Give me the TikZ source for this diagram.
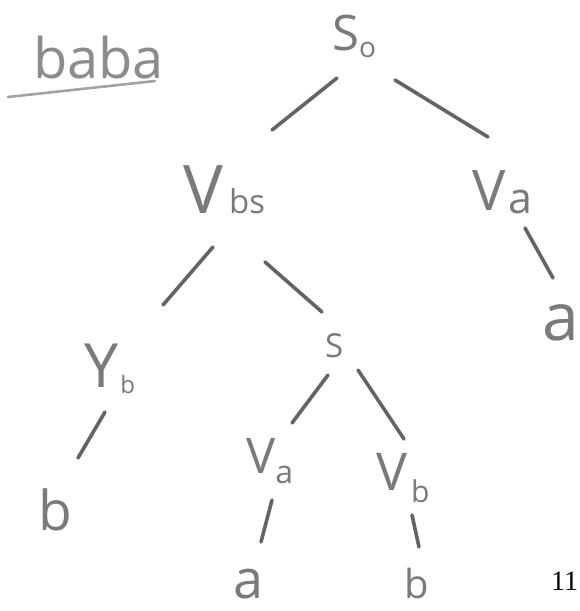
\documentclass[tikz,border=0pt]{standalone}
\usepackage{fontspec}
\setmainfont{Open Sans}
\newfontfamily\numfont{Liberation Serif}
\definecolor{txtgray}{HTML}{7A7A7A}
\definecolor{linegray}{HTML}{646464}
\definecolor{lightgray}{HTML}{8C8C8C}
\newcommand{\fs}[1]{\fontsize{#1}{#1}\selectfont}
% main letter, size, kern, subscript, size, drop
\newcommand{\hwlab}[6]{\fs{#2}#1\kern#3pt\raisebox{-#6pt}{\fs{#5}#4}}
\tikzset{
  lab/.style={text=txtgray, inner sep=0pt, anchor=base west},
  edge/.style={draw=linegray, line width=3.6pt, line cap=round},
}
\begin{document}
\begin{tikzpicture}[x=1pt,y=-1pt]
\useasboundingbox (0,0) rectangle (580,611);
% title
\node[lab, text=lightgray] (title) at (33,78) {\fs{56}baba};
\coordinate (ul1) at (8,97);
\coordinate (ul2) at (155,81);
\draw[draw=lightgray!80, line width=2.6pt, line cap=round] (ul1) -- (ul2);
% labels
\node[lab] (S0) at (332,50) {\hwlab{S}{49}{0}{o}{28}{7}};
\node[lab] (Vbs) at (183,213) {\hwlab{V}{67}{6}{bs}{33}{0}};
\node[lab] (Va1) at (472,210) {\hwlab{V}{56}{3}{a}{43}{3}};
\node[lab] (Yb) at (84,387) {\hwlab{Y}{61}{2}{b}{24}{6}};
\node[lab] (S) at (325,357) {\fs{33}S};
\node[lab] (Va2) at (246,473) {\hwlab{V}{49}{0}{a}{32}{10}};
\node[lab] (Vb) at (376,490) {\hwlab{V}{52}{4}{b}{30}{12}};
% leaves
\node[lab] (a1) at (542,340) {\fs{66}a};
\node[lab] (b1) at (38,530) {\fs{55}b};
\node[lab] (a2) at (233,598) {\fs{54}a};
\node[lab] (b2) at (404,598) {\fs{40}b};
% page number
\node[lab, text=black] (pg) at (551,590) {\numfont\fs{28}11};
% connector ends
\coordinate (e1a) at (337,78);  \coordinate (e1b) at (272,130);
\coordinate (e2a) at (395,80);  \coordinate (e2b) at (488,137);
\coordinate (e3a) at (213,247); \coordinate (e3b) at (163,305);
\coordinate (e4a) at (265,262); \coordinate (e4b) at (322,312);
\coordinate (e5a) at (525,228); \coordinate (e5b) at (553,278);
\coordinate (e6a) at (105,412); \coordinate (e6b) at (78,458);
\coordinate (e7a) at (328,375); \coordinate (e7b) at (292,423);
\coordinate (e8a) at (358,370); \coordinate (e8b) at (404,439);
\coordinate (e9a) at (272,500); \coordinate (e9b) at (261,542);
\coordinate (e10a) at (412,515); \coordinate (e10b) at (419,547);
\draw[edge] (e1a) -- (e1b);
\draw[edge] (e2a) -- (e2b);
\draw[edge] (e3a) -- (e3b);
\draw[edge] (e4a) -- (e4b);
\draw[edge] (e5a) -- (e5b);
\draw[edge] (e6a) -- (e6b);
\draw[edge] (e7a) -- (e7b);
\draw[edge] (e8a) -- (e8b);
\draw[edge] (e9a) -- (e9b);
\draw[edge] (e10a) -- (e10b);
\end{tikzpicture}
\end{document}
